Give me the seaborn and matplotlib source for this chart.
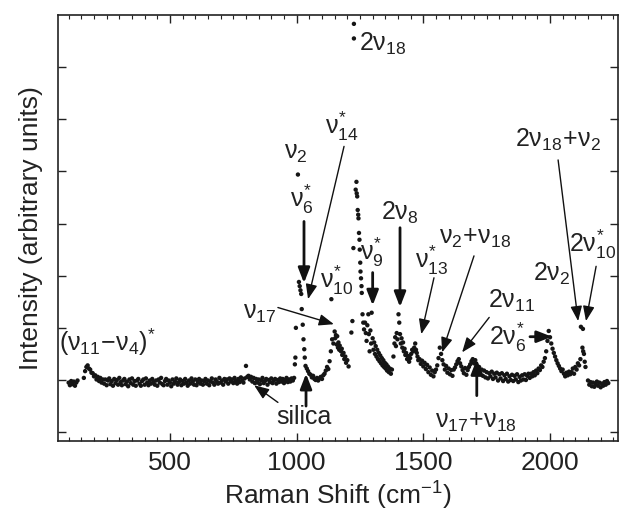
import numpy as np
import pandas as pd
import matplotlib
matplotlib.use("Agg")
import matplotlib.pyplot as plt
from matplotlib.ticker import MultipleLocator, NullFormatter
import seaborn as sns

# ---------------- data ----------------
# segment 1: low-shift edge
seg1_x = list(range(100, 136, 5))
seg1_y = [0.95, 0.90, 0.98, 0.92, 0.97, 0.89, 0.95, 0.99]

# segment 2: 160 .. 990 cm-1, sampled every 5 cm-1
seg2_x = list(range(160, 991, 5))
seg2_y = [1.04, 1.17, 1.25, 1.28, 1.22, 1.20, 1.14, 1.13, 1.07, 1.09, 1.01, 1.06, 0.98, 1.04, 0.95, 1.01,
          0.93, 1.01, 0.90, 0.99, 1.03, 0.92, 0.98, 0.89, 1.02, 0.94, 1.00, 0.91, 1.04, 0.96, 0.90, 0.99, 1.02, 0.92, 0.97, 0.88,
          1.01, 0.94, 1.03, 0.91, 0.98, 0.89, 0.99, 1.02, 0.93, 0.89, 0.98, 1.01, 0.91, 1.03, 0.95, 0.90, 0.99, 0.93, 1.02, 0.96,
          0.91, 0.99, 0.89, 1.01, 0.95, 1.04, 0.92, 0.90, 0.98, 1.02, 0.91, 0.99, 0.95, 0.88, 1.01, 0.93, 0.97, 1.03, 0.91, 0.96,
          1.01, 0.90, 0.98, 0.93, 1.02, 0.95, 0.89, 0.99, 0.93, 1.03, 0.97, 0.91, 1.01, 0.90, 0.96, 1.02, 0.93, 0.99, 0.91, 0.98,
          1.02, 0.93, 0.99, 0.90, 0.97, 1.03, 0.95, 0.91, 1.01, 0.97, 0.93, 1.04, 0.95, 0.99, 0.91, 1.02, 0.97, 1.01, 0.93, 1.03,
          0.97, 1.01, 0.94, 1.04, 0.98, 0.93, 1.02, 0.96, 1.05, 0.99, 0.95, 1.03, 1.27, 1.06, 1.08, 1.01, 1.06, 0.97, 1.04, 0.94,
          1.02, 0.95, 1.01, 0.92, 0.99, 1.04, 0.94, 0.98, 1.02, 0.91, 1.00, 0.96, 1.03, 0.94, 0.99, 1.02, 0.93, 1.00, 0.96, 1.03,
          0.97, 1.02, 0.94, 1.00, 1.04, 0.96, 1.01, 0.97, 1.03, 0.99, 1.04]

# segment 3: the band region 993 .. 1480 cm-1 (irregular sampling)
seg3_x = [993, 995, 997, 1005, 1009, 1012, 1015, 1018, 1020, 1024, 1027, 1030, 1032, 1035,
          1040, 1045, 1050, 1055, 1060, 1065, 1070, 1075, 1080, 1085, 1090, 1095, 1100, 1105, 1110, 1115, 1120, 1125, 1130,
          1137,
          1135, 1140, 1145, 1150, 1152, 1155, 1158, 1160, 1163, 1165, 1168, 1170, 1175, 1178, 1180, 1185, 1188, 1192, 1195, 1200, 1205,
          1216, 1220,
          1226, 1226,
          1224, 1233, 1236, 1237, 1239, 1241, 1243, 1244, 1246, 1248, 1249, 1251, 1252, 1254, 1256, 1257, 1260, 1263, 1266, 1270, 1273,
          1276, 1279, 1283, 1285, 1288, 1291, 1294, 1296, 1300, 1303, 1306, 1309, 1312, 1315, 1318, 1321, 1324, 1327, 1330, 1333,
          1336, 1339, 1342, 1345, 1348, 1351, 1354, 1357, 1360, 1364, 1368, 1372, 1376,
          1382, 1386, 1389, 1392, 1395, 1398, 1402, 1405, 1408, 1411, 1414, 1417, 1420, 1423, 1426, 1429, 1432, 1436, 1440,
          1444, 1448, 1452, 1456, 1460, 1464, 1468, 1471, 1474, 1477, 1480]
seg3_y = [1.30, 1.43, 2.00, 4.94, 2.88, 2.80, 2.72, 2.65, 2.36, 2.06, 1.78, 1.59, 1.43, 1.27,
          1.22, 1.17, 1.12, 1.10, 1.05, 1.08, 1.02, 1.00, 1.04, 0.99, 1.03, 1.06, 1.02, 1.09, 1.12, 1.18, 1.25, 1.21, 1.36,
          2.55,
          1.55, 1.78, 1.70, 1.93, 1.80, 1.86, 1.68, 1.84, 1.62, 1.72, 1.58, 1.66, 1.55, 1.60, 1.48, 1.52, 1.40, 1.45, 1.33, 1.38, 1.26,
          1.91, 2.13,
          7.83, 7.55,
          3.53, 4.65, 4.80, 4.58, 4.52, 4.26, 4.17, 4.10, 3.82, 3.69, 3.50, 3.25, 3.08, 2.95, 2.80, 2.67, 2.26, 2.10, 1.97, 2.10, 1.90,
          1.75, 2.05, 2.26, 1.88, 1.55, 1.95, 1.70, 2.29, 1.80, 1.58, 1.72, 1.50, 1.65, 1.45, 1.58, 1.40, 1.52, 1.36, 1.47, 1.32,
          1.42, 1.28, 1.38, 1.25, 1.33, 1.22, 1.30, 1.18, 1.26, 1.15, 1.22, 1.12, 1.20,
          1.45, 1.70, 1.82, 1.65, 1.90, 1.78, 2.26, 2.10, 1.88, 1.70, 1.80, 1.62, 1.72, 1.55, 1.60, 1.48, 1.52, 1.40, 1.46,
          1.35, 1.42, 1.50, 1.58, 1.55, 1.62, 1.70, 1.58, 1.52, 1.45, 1.38]

# segment 4: 1485 .. 2120 cm-1, sampled every 5 cm-1
seg4_x = list(range(1485, 2121, 5))
seg4_y = [1.40, 1.31, 1.37, 1.26, 1.33, 1.21, 1.29, 1.15, 1.24, 1.10, 1.18, 1.07, 1.15, 1.20, 1.28, 1.42, 1.62, 1.50, 1.38, 1.30,
          1.20, 1.27, 1.14, 1.22, 1.11, 1.19, 1.08, 1.20, 1.24, 1.30, 1.36, 1.40, 1.32, 1.26, 1.19, 1.13, 1.23, 1.10, 1.19, 1.25,
          1.30, 1.36, 1.40, 1.32, 1.38, 1.26, 1.19, 1.25, 1.13, 1.20, 1.08, 1.18, 1.05, 1.15, 1.03, 1.13, 1.07, 1.16, 1.02, 1.12,
          1.05, 1.14, 0.99, 1.11, 1.03, 1.13, 0.98, 1.09, 1.02, 1.12, 0.97, 1.07, 1.00, 1.10, 0.98, 1.08, 1.01, 1.11, 0.96, 1.06,
          0.99, 1.09, 1.01, 1.11, 1.00, 1.08, 1.12, 1.04, 1.12, 1.07, 1.15, 1.09, 1.18, 1.13, 1.22, 1.19, 1.28, 1.25, 1.35, 1.42,
          1.55, 1.75, 1.94, 1.82, 1.70, 1.60, 1.52, 1.45, 1.38, 1.32, 1.27, 1.22, 1.17, 1.20, 1.12, 1.07, 1.14, 1.09, 1.16, 1.11,
          1.15, 1.22, 1.12, 1.25, 1.20, 1.32, 1.28, 1.40]

# segment 5: 2nu10* peak
seg5_x = [2122, 2130, 2128, 2131, 2134, 2137, 2140]
seg5_y = [2.02, 1.98, 1.62, 1.55, 1.50, 1.35, 1.25]

# segment 6: high-shift edge
seg6_x = list(range(2150, 2231, 5))
seg6_y = [0.99, 0.91, 0.96, 0.88, 0.95, 0.87, 0.93, 0.97, 0.89, 0.95, 0.86, 0.93, 0.89, 0.96, 0.91, 0.98, 0.94]

shift = seg1_x + seg2_x + seg3_x + seg4_x + seg5_x + seg6_x
intensity = seg1_y + seg2_y + seg3_y + seg4_y + seg5_y + seg6_y
df = pd.DataFrame({"shift": shift, "intensity": intensity})

x_ticks = [500, 1000, 1500, 2000]
y_ticks = [0, 1, 2, 3, 4, 5, 6, 7]

# ---------------- style ----------------
sns.set_theme(style="ticks")
plt.rcParams["font.family"] = ["Liberation Sans", "DejaVu Sans"]
plt.rcParams["mathtext.fontset"] = "custom"
plt.rcParams["mathtext.rm"] = "Liberation Sans"
plt.rcParams["mathtext.it"] = "Liberation Sans"
plt.rcParams["mathtext.bf"] = "Liberation Sans:bold"

fig = plt.figure(figsize=(6.21, 5.17), dpi=100)
ax = fig.add_axes([0.0934, 0.147, 0.9016, 0.824])

sns.scatterplot(data=df, x="shift", y="intensity", ax=ax, s=10, color="#151515",
                linewidth=0, edgecolor="none", legend=False)

ax.set_xlim(58, 2268)
ax.set_ylim(-0.17, 8.0)
ax.set_xticks(x_ticks)
ax.xaxis.set_minor_locator(MultipleLocator(50))
ax.set_yticks(y_ticks)
ax.yaxis.set_major_formatter(NullFormatter())
ax.tick_params(which="both", direction="in", top=True, right=True, colors="#222222")
ax.tick_params(which="major", length=6, width=1, labelsize=19, pad=7)
ax.tick_params(which="minor", length=3, width=0.8)
for sp in ax.spines.values():
    sp.set_linewidth(1.2)
    sp.set_color("#222222")

ax.set_xlabel(r"Raman Shift (cm$^{-1}$)", fontsize=19, color="#222222", labelpad=4)
ax.set_ylabel("Intensity (arbitrary units)", fontsize=19, color="#222222", labelpad=4)

fs = 18
txt = dict(fontsize=fs, color="#222222", ha="center", va="center")
thick = dict(arrowstyle="-|>,head_length=0.9,head_width=0.35", lw=2.0, color="#111111",
             mutation_scale=10, shrinkA=0, shrinkB=0)
thin = dict(arrowstyle="-|>,head_length=0.9,head_width=0.35", lw=1.0, color="#111111",
            mutation_scale=10, shrinkA=0, shrinkB=0)


def arrow(tail, head, props):
    ax.annotate("", xy=head, xytext=tail, arrowprops=props)


ax.text(62, 1.72, r"$(\nu_{11}\!-\!\nu_{4})^{*}$", fontsize=fs, color="#222222", ha="left", va="center")

ax.text(1029, 0.29, "silica", **txt)
arrow((1037, 0.50), (1037, 1.12), thick)
arrow((926, 0.57), (832, 0.90), thin)

ax.text(997, 5.35, r"$\nu_{2}$", **txt)
ax.text(1021, 4.46, r"$\nu^{*}_{6}$", **txt)
arrow((1029, 4.04), (1029, 2.86), thick)

ax.text(1179, 5.86, r"$\nu^{*}_{14}$", **txt)
arrow((1187, 5.48), (1045, 2.55), thin)

ax.text(1158, 2.92, r"$\nu^{*}_{10}$", **txt)

ax.text(855, 2.29, r"$\nu_{17}$", **txt)
arrow((926, 2.39), (1147, 2.07), thin)

ax.text(1248, 7.45, r"$2\nu_{18}$", fontsize=fs, color="#222222", ha="left", va="center")

ax.text(1297, 3.44, r"$\nu^{*}_{9}$", **txt)
arrow((1300, 3.06), (1300, 2.43), thick)

ax.text(1408, 4.2, r"$2\nu_{8}$", **txt)
arrow((1408, 3.92), (1408, 2.40), thick)

ax.text(1532, 3.30, r"$\nu^{*}_{13}$", **txt)
arrow((1542, 2.96), (1492, 1.88), thin)

ax.text(1705, 3.72, r"$\nu_{2}\!+\!\nu_{18}$", **txt)
arrow((1700, 3.38), (1574, 1.53), thin)

ax.text(1850, 2.52, r"$2\nu_{11}$", **txt)
arrow((1760, 2.20), (1653, 1.53), thin)

ax.text(1708, 0.19, r"$\nu_{17}\!+\!\nu_{18}$", **txt)
arrow((1711, 0.70), (1711, 1.40), thick)

ax.text(1834, 1.82, r"$2\nu^{*}_{6}$", **txt)
arrow((1921, 1.83), (2008, 1.83), thick)

ax.text(2008, 3.03, r"$2\nu_{2}$", **txt)

ax.text(2032, 5.6, r"$2\nu_{18}\!+\!\nu_{2}$", **txt)
arrow((2032, 5.22), (2111, 2.13), thin)

ax.text(2168, 3.6, r"$2\nu^{*}_{10}$", **txt)
arrow((2182, 3.18), (2142, 2.13), thin)

fig.savefig("out.png", dpi=100)
